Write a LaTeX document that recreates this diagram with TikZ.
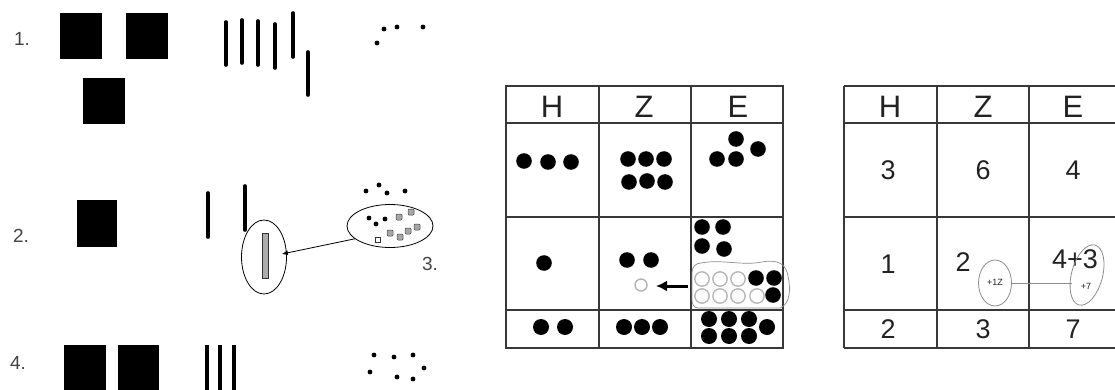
\documentclass[tikz,border=0pt]{standalone}
\usepackage{fontspec}
\setmainfont{Liberation Sans}
\usetikzlibrary{arrows.meta,shapes.geometric}
\definecolor{ink}{HTML}{222222}
\definecolor{gridc}{HTML}{383838}
\definecolor{soft}{HTML}{8C8C8C}
\definecolor{lite}{HTML}{B4B4B4}
\begin{document}
\begin{tikzpicture}[x=1pt,y=-1pt,
  sqr/.style={fill=black},
  barline/.style={line width=3.6pt,line cap=round},
  num/.style={text=ink!85,inner sep=0pt,font=\fontsize{19}{19}\selectfont},
  hdr/.style={text=ink,inner sep=0pt,font=\fontsize{31}{31}\selectfont},
  val/.style={text=ink,inner sep=0pt,font=\fontsize{27}{27}\selectfont},
  tiny/.style={text=ink,inner sep=0pt,font=\fontsize{9}{9}\selectfont},
  tline/.style={draw=gridc,line width=1.8pt},
  ring/.style={draw=black,line width=0.8pt,ellipse,inner sep=0pt},
  gring/.style={draw=soft,line width=0.8pt,ellipse,inner sep=0pt},
]
\useasboundingbox (0,0) rectangle (1115,390);

% ---------- left part ----------
\node[num] (l1) at (22,39) {1.};
\node[num] (l2) at (21,236) {2.};
\node[num] (l3) at (430,264) {3.};
\node[num] (l4) at (18,363) {4.};

% row 1
\fill[sqr] (60,13) rectangle (102,59);
\fill[sqr] (126,13) rectangle (168,59);
\fill[sqr] (83,78) rectangle (125,124);
\draw[barline] (226,22) -- (226,65);
\draw[barline] (242,20) -- (242,63);
\draw[barline] (258,21) -- (258,65);
\draw[barline] (275,24) -- (275,68);
\draw[barline] (293,13) -- (293,57);
\draw[barline] (308,52) -- (308,95);
\foreach \p in {(377,43),(384,29),(397,27),(423,27)} \fill \p circle (2.4);

% row 2
\fill[sqr] (77,200) rectangle (117,247);
\draw[barline] (208,193) -- (208,237);
\draw[barline] (245,186) -- (245,230);
\node[ring,minimum width=45,minimum height=74] (e2) at (264,257) {};
\filldraw[fill=gray!65,draw=gray!40!black,line width=0.6pt] (262,233) rectangle (268,278);
\foreach \p in {(366,191),(379,185),(387,193),(405,191)} \fill \p circle (2.4);
\node[ring,minimum width=86,minimum height=43] (e3) at (390,226) {};
\foreach \p in {(369,218),(376,224),(385,219)} \fill \p circle (2.4);
\foreach \p in {(399,217),(411,212),(390,233),(400,237),(408,231),(417,227)}
  \filldraw[fill=gray!70,draw=gray!50!black,line width=0.5pt,rounded corners=1pt]
    \p ++(-3,-3) rectangle ++(6,6);
\filldraw[fill=white,draw=gray!40!black,line width=0.6pt] (375.5,237.5) rectangle ++(5,5);
\draw[line width=0.8pt,-{Latex[length=6pt,width=5pt]},shorten >=-5pt] (e3.200) -- (e2.10);

% row 4
\fill[sqr] (64,345) rectangle (106,395);
\fill[sqr] (118,345) rectangle (159,395);
\draw[line width=3.6pt] (207,345) -- (207,395);
\draw[line width=3.6pt] (220,345) -- (220,395);
\draw[line width=3.6pt] (234,345) -- (234,395);
\foreach \p in {(374,355),(394,357),(413,355),(370,372),(397,377),(413,379),(424,368)} \fill \p circle (2.4);

% ---------- middle table (dots) ----------
\draw[tline] (506,86) rectangle (783,348);
\foreach \yy in {123,217,310} \draw[tline] (506,\yy) -- (783,\yy);
\draw[tline] (599,86) -- (599,348);
\draw[tline] (691,86) -- (691,348);
\node[hdr] (ah) at (552,107) {H};
\node[hdr] (az) at (644,107) {Z};
\node[hdr] (ae) at (738,107) {E};

% row 1
\foreach \p in {(524,161),(548,162),(571,162),
                (628,159),(646,159),(664,159),(629,182),(647,181),(665,182),
                (717,159),(736,159),(736,139),(758,149)}
  \fill \p circle (7.8);
% row 2
\foreach \p in {(544,263),(627,260),(651,260),
                (702,227),(723,227),(702,246),(724,249)}
  \fill \p circle (7.8);
\node[circle,draw=lite,line width=1.4pt,minimum size=12pt,inner sep=0pt] (hc) at (641,285) {};
% regrouping area
\draw[draw=soft,line width=0.7pt]
  (698,308) to[out=180,in=270] (692,300) -- (692,272) to[out=90,in=180] (701,263)
  .. controls (722,259) and (742,266) .. (762,262)
  .. controls (778,259) and (786,264) .. (788,276)
  .. controls (791,290) and (790,304) .. (780,308) -- cycle;
\foreach \p in {(702,279),(720,279),(738,279),(702,296),(720,296),(738,296),(757,296)}
  \draw[lite,line width=1.3pt] \p circle (7.2);
\foreach \p in {(756,278),(774,278),(773,295)} \fill \p circle (7.8);
\coordinate (as) at (688,286);
\coordinate (ae2) at (656,286);
\draw[line width=3pt,-{Latex[length=11pt,width=11pt]}] (as) -- (ae2);
% row 3
\foreach \p in {(541,327),(565,327),(624,327),(642,327),(660,327),
                (709,319),(729,319),(749,319),(709,336),(729,336),(749,336),(767,327)}
  \fill \p circle (8);

% ---------- right table (numbers) ----------
\foreach \yy in {86,123,217,310,348} \draw[tline] (844,\yy) -- (1116,\yy);
\draw[tline] (844,86) -- (844,348);
\draw[tline] (937,86) -- (937,348);
\draw[tline] (1029,86) -- (1029,348);
\node[hdr] (bh) at (890,107) {H};
\node[hdr] (bz) at (983,107) {Z};
\node[hdr] (be) at (1073,107) {E};
\node[val] (r1h) at (888,170) {3};
\node[val] (r1z) at (983,170) {6};
\node[val] (r1e) at (1073,170) {4};
\node[val] (r2h) at (888,264) {1};
\node[val] (r2z) at (963,262) {2};
\node[val] (r2e) at (1075,259) {4+3};
\node[val] (r3h) at (888,329) {2};
\node[val] (r3z) at (983,329) {3};
\node[val] (r3e) at (1073,329) {7};
\node[gring,minimum width=33,minimum height=46] (z1) at (995,283) {};
\node[tiny] (t1z) at (995,282) {+1Z};
\node[gring,minimum width=31,minimum height=62,rotate=-15] (e7) at (1087,275) {};
\node[tiny] (t7) at (1086,286) {+7};
\draw[soft,line width=0.7pt] (z1.east) -- (z1.east -| e7.west);
\end{tikzpicture}
\end{document}
